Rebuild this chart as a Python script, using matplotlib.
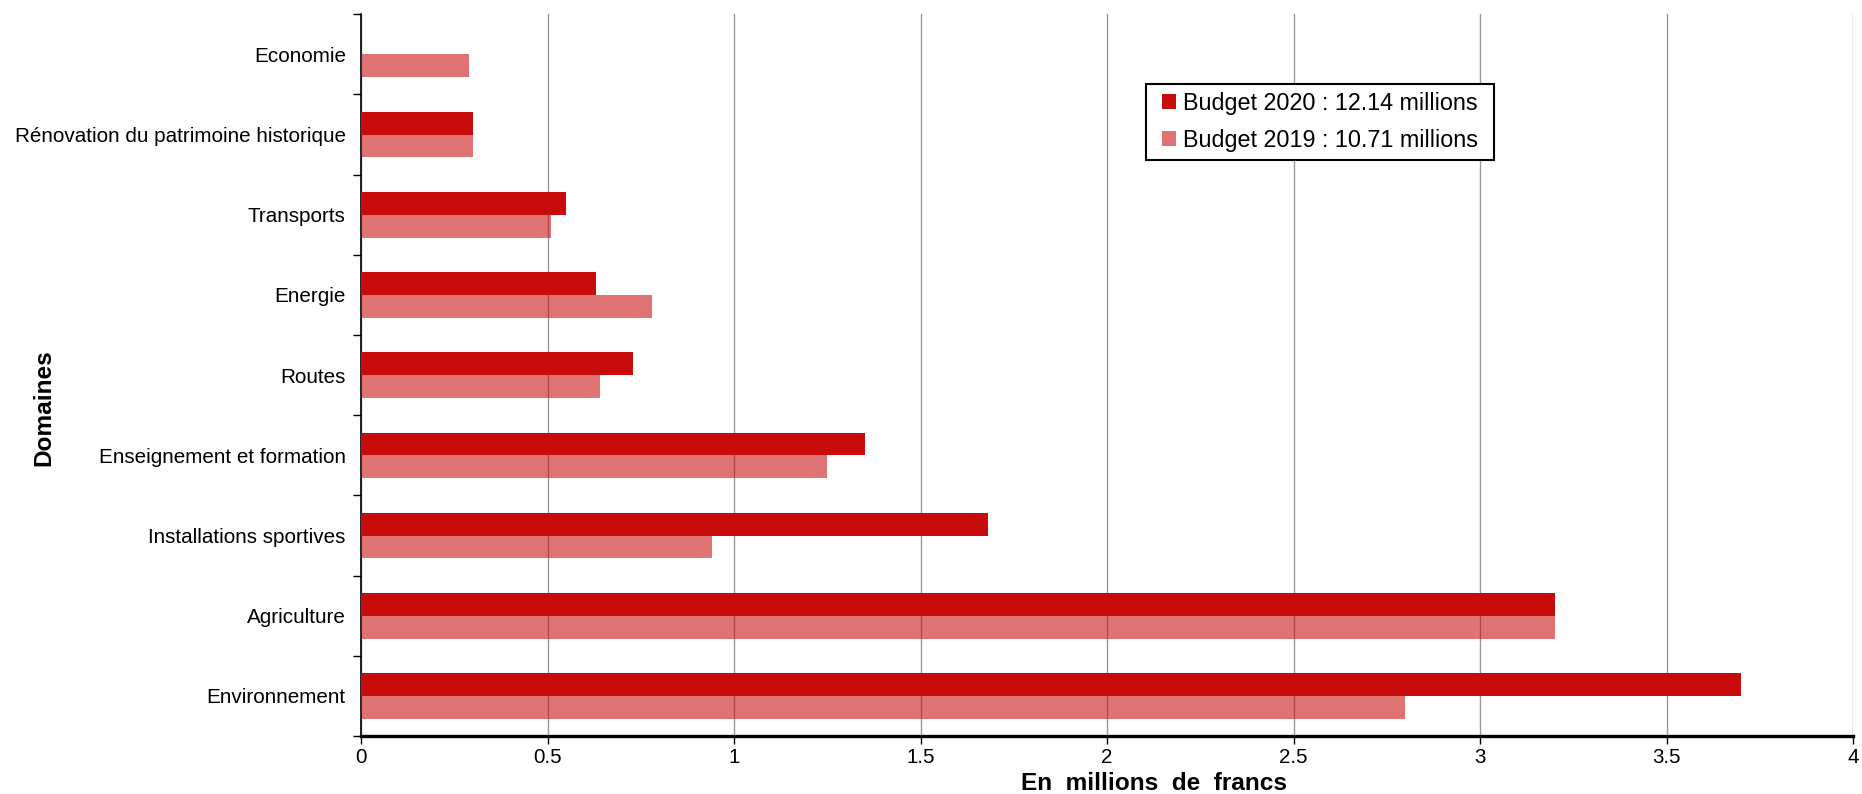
import matplotlib
matplotlib.use("Agg")
import matplotlib.pyplot as plt
from matplotlib.patches import Patch, Rectangle
import numpy as np

plt.rcParams["font.family"] = ["Liberation Sans", "DejaVu Sans"]

# Data (bottom to top)
domaines = ["Environnement", "Agriculture", "Installations sportives",
            "Enseignement et formation", "Routes", "Energie", "Transports",
            "Rénovation du patrimoine historique", "Economie"]
budget_2020 = [3.70, 3.20, 1.68, 1.35, 0.73, 0.63, 0.55, 0.30, 0.0]
budget_2019 = [2.80, 3.20, 0.94, 1.25, 0.64, 0.78, 0.51, 0.30, 0.29]
label_2020 = "Budget 2020 : 12.14 millions"
label_2019 = "Budget 2019 : 10.71 millions"
x_ticks = [0, 0.5, 1, 1.5, 2, 2.5, 3, 3.5, 4]
x_ticklabels = ["0", "0.5", "1", "1.5", "2", "2.5", "3", "3.5", "4"]

RED = "#C80C0C"

fig = plt.figure(figsize=(18.62, 7.94), dpi=100)
ax = fig.add_axes([0.1939, 0.073, 0.8013, 0.909])

y = np.arange(len(domaines))
h = 0.285
ax.barh(y + h / 2, budget_2020, height=h, color=RED, zorder=3)
ax.barh(y - h / 2, budget_2019, height=h, color=RED, alpha=0.58, zorder=3)

ax.set_xlim(0, 4)
ax.set_ylim(-0.5, len(domaines) - 0.5)

# x axis
ax.set_xticks(x_ticks)
ax.set_xticklabels(x_ticklabels, fontsize=14.8)
ax.tick_params(axis="x", direction="out", length=6, width=1, pad=2.5)
ax.grid(axis="x", color="#9a9a9a", linewidth=1, zorder=0)
ax.set_axisbelow(True)

# y axis: ticks at category boundaries, labels at centres
ax.set_yticks(np.arange(len(domaines) + 1) - 0.5)
ax.set_yticklabels([])
ax.set_yticks(y, minor=True)
ax.set_yticklabels(domaines, minor=True, fontsize=14.9)
ax.tick_params(axis="y", which="major", direction="out", length=6, width=1)
ax.tick_params(axis="y", which="minor", length=0, pad=11)

for s in ["top", "right"]:
    ax.spines[s].set_visible(False)
ax.spines["left"].set_linewidth(1.2)
ax.spines["bottom"].set_linewidth(2.4)

fig.text(0.6195, 0.0126, "En  millions  de  francs", ha="center", va="center",
         fontsize=17.6, fontweight="bold")
fig.text(0.0236, 0.487, "Domaines", ha="center", va="center", rotation=90,
         fontsize=17.6, fontweight="bold")

# legend without frame, box drawn around it with Excel-like padding
handles = [Patch(facecolor=RED, label=label_2020),
           Patch(facecolor=RED, alpha=0.58, label=label_2019)]
leg = fig.legend(handles=handles, loc="center left", bbox_to_anchor=(0.6243, 0.8465),
                 fontsize=16.8, frameon=False, handlelength=0.6,
                 handleheight=0.6, handletextpad=0.3, borderpad=0,
                 labelspacing=0.6, borderaxespad=0)
fig.canvas.draw()
bb = leg.get_window_extent()
pad_x, box_h = 16, 76
pad_y = (box_h - bb.height) / 2
W, H = fig.bbox.width, fig.bbox.height
fig.patches.append(Rectangle(((bb.x0 - pad_x) / W, (bb.y0 - pad_y) / H),
                             (bb.width + 2 * pad_x) / W, (bb.height + 2 * pad_y) / H,
                             transform=fig.transFigure, facecolor="white",
                             edgecolor="black", linewidth=1.5, zorder=4))
leg.set_zorder(5)

fig.savefig("out.png", dpi=100)
